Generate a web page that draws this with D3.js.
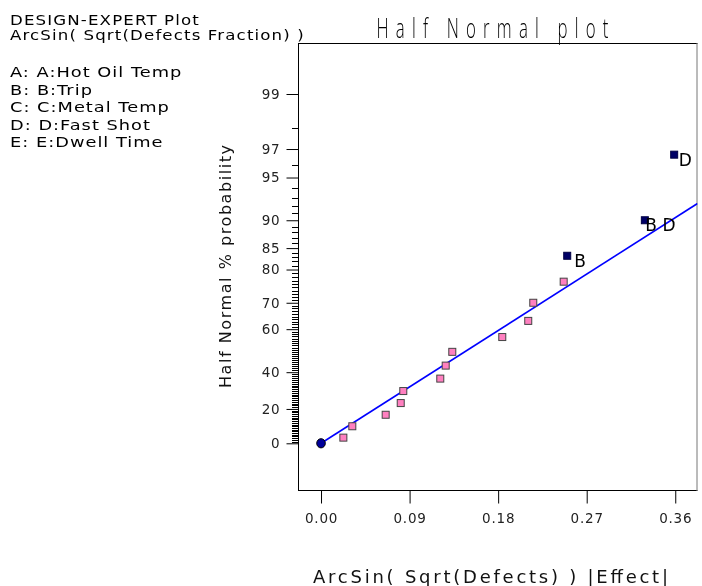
<!DOCTYPE html>
<html>
<head>
<meta charset="utf-8">
<script src="https://cdn.jsdelivr.net/npm/d3@7"></script>
<style>
  html, body { margin: 0; padding: 0; background: #fff; }
  svg { display: block; font-family: "DejaVu Sans", Verdana, sans-serif; will-change: transform; }
</style>
</head>
<body>
<svg id="chart" width="702" height="586"></svg>
<script>
// ---------------- data ----------------
const headerLines = ["DESIGN-EXPERT Plot", "ArcSin( Sqrt(Defects Fraction) )"];
const legendLines = ["A: A:Hot Oil Temp", "B: B:Trip", "C: C:Metal Temp", "D: D:Fast Shot", "E: E:Dwell Time"];
const titleText = "Half Normal plot";
const xLabel = "ArcSin( Sqrt(Defects) ) |Effect|";
const yLabel = "Half Normal % probability";

const xTicks = [0.00, 0.09, 0.18, 0.27, 0.36];
const xTickLabels = ["0.00", "0.09", "0.18", "0.27", "0.36"];
const yTicks = [0, 20, 40, 60, 70, 80, 85, 90, 95, 97, 99];
const yTickLabels = ["0", "20", "40", "60", "70", "80", "85", "90", "95", "97", "99"];

// |effect| and half-normal % probability of each effect
const effects = [0.0227, 0.0318, 0.0657, 0.0810, 0.0836, 0.1212, 0.1267, 0.1334,
                 0.1842, 0.2106, 0.2157, 0.2466, 0.2502, 0.3291, 0.3589];
const probs   = [3.33, 10.00, 16.67, 23.33, 30.00, 36.67, 43.33, 50.00,
                 56.67, 63.33, 70.00, 76.67, 83.33, 90.00, 96.67];
const selected = [false, false, false, false, false, false, false, false,
                  false, false, false, false, true, true, true];
const labels   = ["", "", "", "", "", "", "", "", "", "", "", "", "B", "B D", "D"];

// origin point
const originEffect = [0];
const originProb = [0];

// fitted line (|effect|, % probability)
const lineEffect = [0, 0.3826];
const lineProb = [0, 92.3];

// ---------------- helpers ----------------
function normInv(p) {
  const a = [-3.969683028665376e+01, 2.209460984245205e+02, -2.759285104469687e+02,
             1.383577518672690e+02, -3.066479806614716e+01, 2.506628277459239e+00];
  const b = [-5.447609879822406e+01, 1.615858368580409e+02, -1.556989798598866e+02,
             6.680131188771972e+01, -1.328068155288572e+01];
  const c = [-7.784894002430293e-03, -3.223964580411365e-01, -2.400758277161838e+00,
             -2.549732539343734e+00, 4.374664141464968e+00, 2.938163982698783e+00];
  const d = [7.784695709041462e-03, 3.224671290700398e-01, 2.445134137142996e+00,
             3.754408661907416e+00];
  const pl = 0.02425, ph = 1 - pl;
  let q, r;
  if (p < pl) {
    q = Math.sqrt(-2 * Math.log(p));
    return (((((c[0]*q+c[1])*q+c[2])*q+c[3])*q+c[4])*q+c[5]) / ((((d[0]*q+d[1])*q+d[2])*q+d[3])*q+1);
  } else if (p <= ph) {
    q = p - 0.5; r = q * q;
    return (((((a[0]*r+a[1])*r+a[2])*r+a[3])*r+a[4])*r+a[5])*q / (((((b[0]*r+b[1])*r+b[2])*r+b[3])*r+b[4])*r+1);
  } else {
    q = Math.sqrt(-2 * Math.log(1 - p));
    return -(((((c[0]*q+c[1])*q+c[2])*q+c[3])*q+c[4])*q+c[5]) / ((((d[0]*q+d[1])*q+d[2])*q+d[3])*q+1);
  }
}
// half-normal quantile of a percent
const hn = pct => (pct <= 0 ? 0 : normInv(0.5 + pct / 200));

// ---------------- layout ----------------
const L = 298, R = 697.5, T = 43, B = 490;
const x = d3.scaleLinear().domain([-0.0234, 0.3826]).range([L, R]);
const yq = d3.scaleLinear().domain([-0.3444, 2.952]).range([B, T]);
const y = pct => yq(hn(pct));

const svg = d3.select("#chart");

// header text
const hdr = svg.append("g").attr("transform", "translate(10,0) scale(1.26,1)");
hdr.selectAll("text").data(headerLines).enter().append("text")
  .attr("x", 0).attr("y", (d, i) => 24.8 + i * 15.4)
  .attr("font-size", 13.2).attr("letter-spacing", 0.9).attr("fill", "#000")
  .text(d => d);
const leg = svg.append("g").attr("transform", "translate(10,0) scale(1.27,1)");
leg.selectAll("text").data(legendLines).enter().append("text")
  .attr("x", 0).attr("y", (d, i) => 77.3 + i * 17.5)
  .attr("font-size", 14).attr("letter-spacing", 0.8).attr("fill", "#000")
  .text(d => d);

// title (narrow glyphs, wide spacing)
const tScale = 0.6;
svg.append("g").attr("transform", `translate(376.5,37.8) scale(${tScale},1)`)
  .append("text").attr("x", 0).attr("y", 0)
  .attr("font-family", "'Open Sans', 'DejaVu Sans', sans-serif")
  .attr("font-weight", 300)
  .attr("font-size", 28).attr("fill", "#000")
  .attr("textLength", 232 / tScale).attr("lengthAdjust", "spacing")
  .text(titleText);

// frame
svg.append("line").attr("x1", L).attr("x2", R).attr("y1", T + 0.5).attr("y2", T + 0.5).attr("stroke", "#000");
svg.append("line").attr("x1", L).attr("x2", R).attr("y1", B + 0.5).attr("y2", B + 0.5).attr("stroke", "#000");
svg.append("line").attr("x1", L + 0.5).attr("x2", L + 0.5).attr("y1", T).attr("y2", B + 1).attr("stroke", "#000");
svg.append("line").attr("x1", R - 0.5).attr("x2", R - 0.5).attr("y1", T).attr("y2", B + 1).attr("stroke", "#777");

// x axis
const xAxis = d3.axisBottom(x).tickValues(xTicks).tickSize(13).tickPadding(5)
  .tickFormat((d, i) => xTickLabels[i]);
const gx = svg.append("g").attr("transform", `translate(0,${B + 0.5})`).call(xAxis);
gx.select(".domain").remove();
gx.selectAll(".tick line").attr("stroke", "#000");
gx.selectAll(".tick text").attr("font-size", 13.5).attr("letter-spacing", 0.8)
  .attr("fill", "#222").attr("font-family", "DejaVu Sans, sans-serif").attr("dy", "1.05em");

// y axis minor ticks (every 1%)
const minor = d3.range(1, 99).filter(v => !yTicks.includes(v));
svg.append("g").selectAll("line").data(minor).enter().append("line")
  .attr("x1", L - 6).attr("x2", L)
  .attr("y1", d => Math.round(y(d)) + 0.5).attr("y2", d => Math.round(y(d)) + 0.5)
  .attr("stroke", "#000").attr("stroke-width", 1);

// y axis major ticks + labels
const yAxisScale = d3.scaleLinear().domain(yq.domain()).range(yq.range());
const yAxis = d3.axisLeft(yAxisScale).tickValues(yTicks.map(hn)).tickSize(12).tickPadding(6)
  .tickFormat((d, i) => yTickLabels[i]);
const gy = svg.append("g").attr("transform", `translate(${L + 0.5},0)`).call(yAxis);
gy.select(".domain").remove();
gy.selectAll(".tick line").attr("stroke", "#000");
gy.selectAll(".tick text").attr("font-size", 13.5).attr("letter-spacing", 0.8)
  .attr("fill", "#222").attr("font-family", "DejaVu Sans, sans-serif");

// axis titles
svg.append("text").attr("x", 313).attr("y", 583)
  .attr("font-size", 18).attr("textLength", 355).attr("lengthAdjust", "spacing")
  .attr("fill", "#111").text(xLabel);
svg.append("text").attr("transform", "translate(230.5,388) rotate(-90)")
  .attr("font-size", 16).attr("textLength", 243).attr("lengthAdjust", "spacing")
  .attr("fill", "#111").text(yLabel);

// fitted line (clipped to frame)
svg.append("clipPath").attr("id", "clip").append("rect")
  .attr("x", L).attr("y", T).attr("width", R - L).attr("height", B - T);
const lineData = lineEffect.map((e, i) => [e, lineProb[i]]);
svg.append("path").datum(lineData).attr("clip-path", "url(#clip)")
  .attr("d", d3.line().x(d => x(d[0])).y(d => y(d[1])))
  .attr("fill", "none").attr("stroke", "#0000ff").attr("stroke-width", 1.6);

// origin point
svg.append("g").selectAll("ellipse").data(originEffect.map((e, i) => [e, originProb[i]]))
  .enter().append("ellipse")
  .attr("cx", d => x(d[0])).attr("cy", d => y(d[1]))
  .attr("rx", 4.3).attr("ry", 4.6)
  .attr("fill", "#00009a").attr("stroke", "#000").attr("stroke-width", 1);

// effect points
const pts = effects.map((e, i) => ({ e, p: probs[i], sel: selected[i], lab: labels[i] }));
svg.append("g").selectAll("rect").data(pts).enter().append("rect")
  .attr("x", d => x(d.e) - 3.5).attr("y", d => y(d.p) - 3.5)
  .attr("width", 7).attr("height", 7)
  .attr("fill", d => d.sel ? "#000066" : "#ff80c0")
  .attr("stroke", d => d.sel ? "#000044" : "#444").attr("stroke-width", 1);

// labels
const labDx = { "B": 7, "B D": 0.5, "D": 4.5 };
svg.append("g").selectAll("text").data(pts.filter(d => d.lab)).enter().append("text")
  .attr("x", d => x(d.e) + labDx[d.lab]).attr("y", d => y(d.p) + 11)
  .attr("font-size", 17).attr("fill", "#000").text(d => d.lab);
</script>
</body>
</html>
